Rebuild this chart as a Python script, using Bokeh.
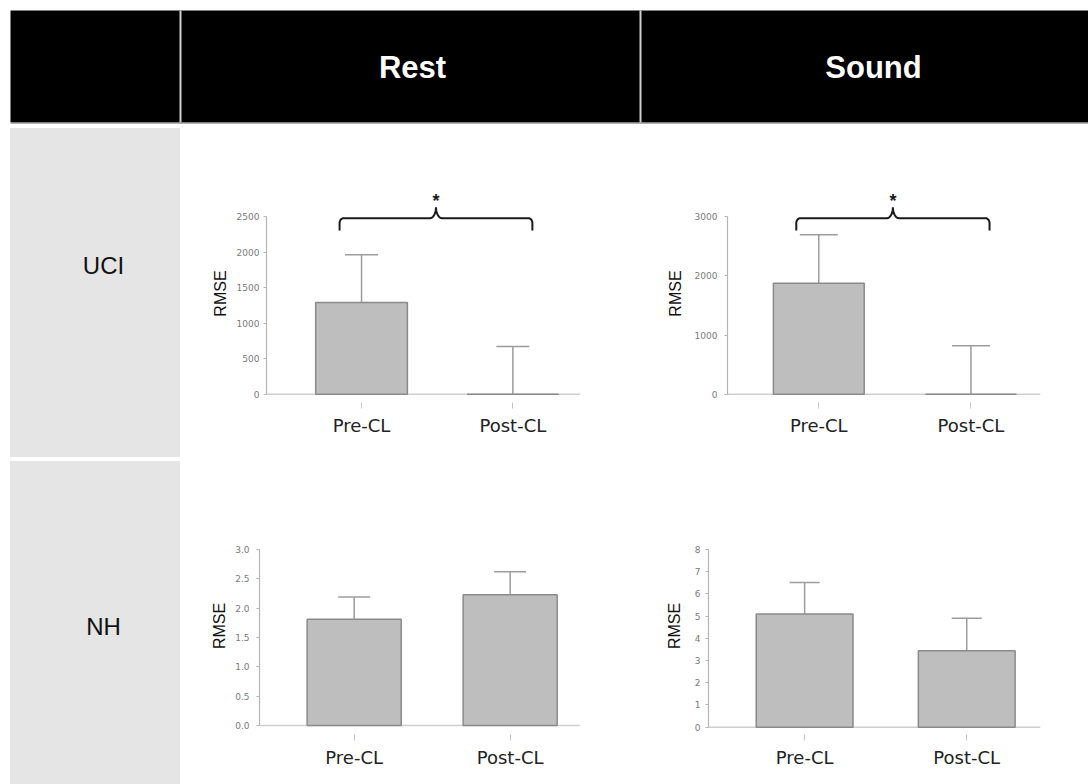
import numpy as np
from bokeh.plotting import figure
from bokeh.layouts import column, row
from bokeh.models import (Range1d, FixedTicker, Span, Whisker, TeeHead,
                          ColumnDataSource, NumeralTickFormatter, Div)
from bokeh.embed import file_html
from bokeh.resources import INLINE
from bokeh.core.properties import value

# ---------------- data ----------------
conditions = ["Pre-CL", "Post-CL"]
task_names = ["Rest", "Sound"]
group_names = ["UCI", "NH"]

uci_rest_rmse = [1290, 0]
uci_rest_err = [670, 670]
uci_sound_rmse = [1875, 0]
uci_sound_err = [820, 820]
nh_rest_rmse = [1.81, 2.23]
nh_rest_err = [0.38, 0.39]
nh_sound_rmse = [5.10, 3.44]
nh_sound_err = [1.41, 1.47]

uci_rest_ticks = [0, 500, 1000, 1500, 2000, 2500]
uci_sound_ticks = [0, 1000, 2000, 3000]
nh_rest_ticks = [0.0, 0.5, 1.0, 1.5, 2.0, 2.5, 3.0]
nh_sound_ticks = [0, 1, 2, 3, 4, 5, 6, 7, 8]

sig_marks = ["*", "*"]  # UCI Rest, UCI Sound

# ---------------- style ----------------
BAR_FILL = "#bebebe"
BAR_LINE = "#8a8a8a"
ERR_COLOR = "#9c9c9c"
AXIS_COLOR = "#b4b4b4"
TICK_LABEL_COLOR = "#7a7a7a"
GRAY_CELL = "#e5e5e5"


def brace(p, x0, x1, y, fw, fh, xr, yr, mark):
    """curly brace opening downward between x0 and x1 at level y."""
    ux = (xr[1] - xr[0]) / fw  # data units per px
    uy = (yr[1] - yr[0]) / fh
    leg, tip, rx, ry, tx = 12.3 * uy, 11 * uy, 4 * ux, 5 * uy, 6 * ux
    xm = (x0 + x1) / 2
    t = np.linspace(0, np.pi / 2, 10)
    lx = [x0] + list(x0 + rx - rx * np.cos(t)) + list(xm - tx + tx * np.sin(t))
    ly = [y - leg] + list(y - ry + ry * np.sin(t)) + list(y + tip - tip * np.cos(t))
    xs = lx + [2 * xm - v for v in reversed(lx)]
    ys = ly + list(reversed(ly))
    p.line(xs, ys, line_color="#1a1a1a", line_width=2)
    p.text(x=[xm], y=[y + tip], text=[mark], text_align="center",
           text_baseline="alphabetic", text_font=value("Liberation Sans"),
           text_font_size="18px", text_font_style="bold", text_color="#1a1a1a",
           y_offset=-6)


def panel(means, errs, ticks, fmt, w, h, borders, xr, yr, bar_w, stand,
          cap=32, bracket=None, mark=None):
    left, right, top, bottom = borders
    p = figure(width=w, height=h, x_range=Range1d(*xr), y_range=Range1d(*yr),
               toolbar_location=None, output_backend="svg",
               min_border_left=left, min_border_right=right,
               min_border_top=top, min_border_bottom=bottom)
    p.outline_line_color = None
    p.grid.visible = False
    p.background_fill_color = "white"
    p.border_fill_color = "white"

    xs = list(range(len(conditions)))
    src = ColumnDataSource(dict(x=xs, top=means,
                                upper=[m + e for m, e in zip(means, errs)]))
    p.add_layout(Span(location=0, dimension="width", line_color="#cfcfcf",
                      line_width=1.5, level="underlay"))
    p.vbar(x="x", top="top", bottom=0, width=bar_w, source=src,
           fill_color=BAR_FILL, line_color=BAR_LINE, line_width=1.5)
    p.add_layout(Whisker(source=src, base="x", lower="top", upper="upper",
                         dimension="height", line_color=ERR_COLOR, line_width=1.5,
                         lower_head=None,
                         upper_head=TeeHead(size=cap, line_color=ERR_COLOR,
                                            line_width=1.5)))

    ya = p.yaxis[0]
    ya.ticker = FixedTicker(ticks=ticks)
    ya.bounds = (ticks[0], ticks[-1])
    ya.formatter = NumeralTickFormatter(format=fmt)
    ya.axis_label = "RMSE"
    ya.axis_label_text_font = "Liberation Sans"
    ya.axis_label_text_font_size = "16px"
    ya.axis_label_text_font_style = "normal"
    ya.axis_label_text_color = "#111111"
    ya.axis_label_standoff = stand[1]
    ya.major_label_text_font = "DejaVu Sans"
    ya.major_label_text_font_size = "9px"
    ya.major_label_text_color = TICK_LABEL_COLOR
    ya.major_label_standoff = stand[0]
    ya.axis_line_color = AXIS_COLOR
    ya.axis_line_width = 1.2
    ya.major_tick_line_color = AXIS_COLOR
    ya.major_tick_in = 0
    ya.major_tick_out = 3
    ya.minor_tick_line_color = None

    xa = p.xaxis[0]
    xa.ticker = FixedTicker(ticks=xs)
    xa.major_label_overrides = {i: c for i, c in zip(xs, conditions)}
    xa.axis_line_color = None
    xa.major_tick_line_color = "#c4c4c4"
    xa.major_tick_in = 0
    xa.major_tick_out = 6
    xa.minor_tick_line_color = None
    xa.major_label_standoff = 6
    xa.major_label_text_font = "DejaVu Sans"
    xa.major_label_text_font_size = "18px"
    xa.major_label_text_color = "#222222"

    if bracket is not None:
        fw = w - left - right
        fh = h - top - bottom
        brace(p, bracket[0], bracket[1], bracket[2], fw, fh, xr, yr, mark)
    return p


# ---------------- header ----------------
hdr = figure(width=1088, height=126, x_range=Range1d(0, 1088), y_range=Range1d(126, 0),
             toolbar_location=None, output_backend="svg", min_border=0,
             x_axis_location=None, y_axis_location=None)
hdr.grid.visible = False
hdr.outline_line_color = None
hdr.quad(left=10, right=1090, top=10, bottom=122, fill_color="black", line_color=None)
hdr.segment(x0=[180, 640], y0=[10, 10], x1=[180, 640], y1=[122, 122],
            line_color="#cfcfcf", line_width=2)
hdr.segment(x0=[10], y0=[123], x1=[1090], y1=[123], line_color="#b0b0b0", line_width=1)
hdr.text(x=[412, 873], y=[67, 67], text=task_names, text_color="white",
         text_font=value("Liberation Sans"), text_font_style="bold",
         text_font_size="31px", text_align="center", text_baseline="middle")


def row_label(name, h, box_h, text_top):
    html = (
        f'<div style="position:relative;margin:2px 0 0 10px;width:170px;height:{box_h}px;'
        f'background:{GRAY_CELL};font-family:\'Liberation Sans\',Arial,sans-serif;'
        f'font-size:24px;color:#111111;">'
        f'<div style="position:absolute;left:0;width:187px;top:{text_top}px;'
        f'line-height:24px;text-align:center;">{name}</div></div>'
    )
    return Div(text=html, width=184, height=h, margin=0)


lab_uci = row_label(group_names[0], 333, 329, 126)
lab_nh = row_label(group_names[1], 325, 323, 154)

p_uci_rest = panel(uci_rest_rmse, uci_rest_err, uci_rest_ticks, "0", 456, 333,
                   (82, 60, 58, 57), (-0.628, 1.447), (-116.8, 2950), 0.606, (4, 5),
                   cap=33, bracket=(-0.145, 1.129, 2476), mark=sig_marks[0])
p_uci_sound = panel(uci_sound_rmse, uci_sound_err, uci_sound_ticks, "0", 448, 333,
                    (87, 48, 58, 57), (-0.600, 1.457), (-140.4, 3546), 0.597, (7, 8),
                    cap=38, bracket=(-0.148, 1.122, 2976), mark=sig_marks[1])
p_nh_rest = panel(nh_rest_rmse, nh_rest_err, nh_rest_ticks, "0.0", 456, 325,
                  (75, 60, 58, 50), (-0.607, 1.451), (-0.153, 3.545), 0.603, (7, 4),
                  cap=32)
p_nh_sound = panel(nh_sound_rmse, nh_sound_err, nh_sound_ticks, "0", 448, 325,
                   (68, 48, 58, 50), (-0.593, 1.455), (-0.329, 9.442), 0.597, (5, 9),
                   cap=30)

layout = column(hdr,
                row(lab_uci, p_uci_rest, p_uci_sound, spacing=0),
                row(lab_nh, p_nh_rest, p_nh_sound, spacing=0),
                spacing=0)

open("out.html", "w").write(file_html(layout, INLINE))
